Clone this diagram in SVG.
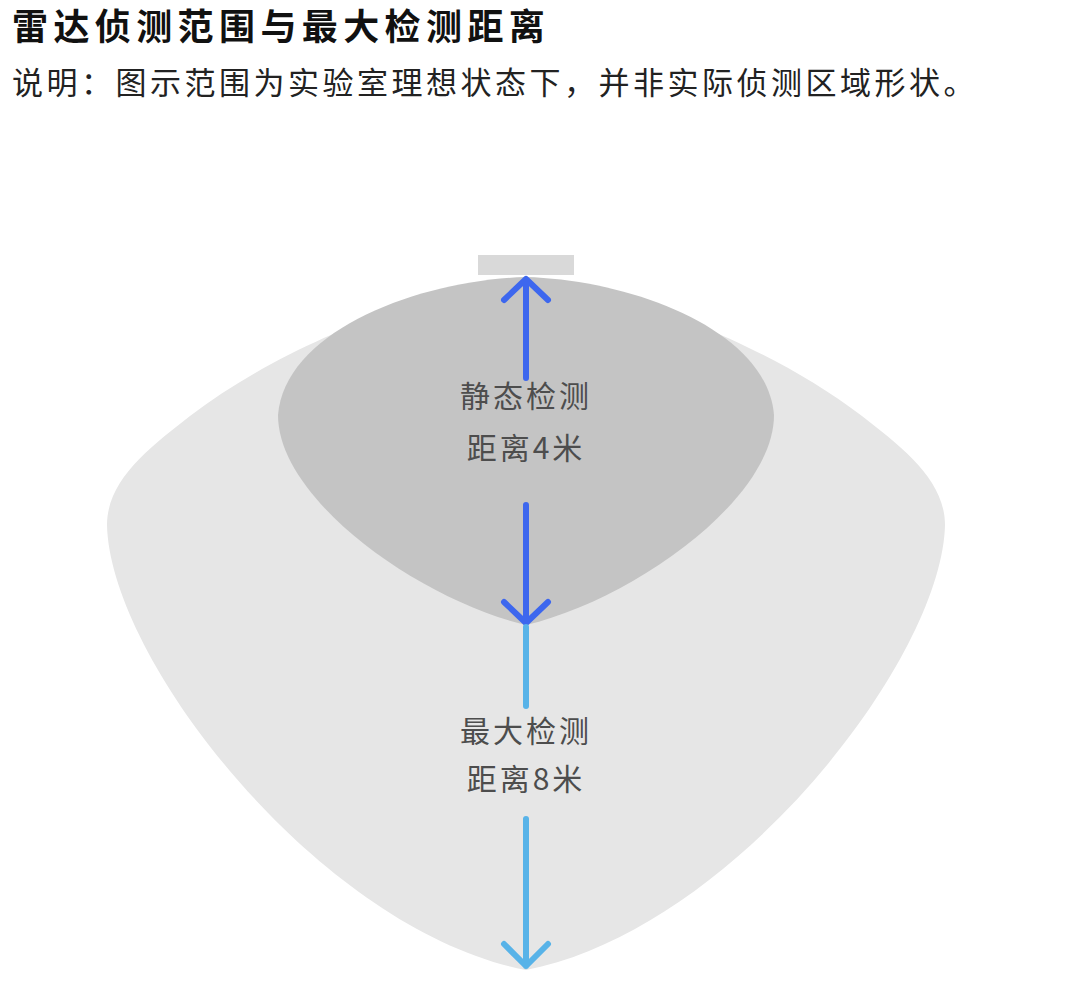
<svg xmlns="http://www.w3.org/2000/svg" width="1080" height="986" viewBox="0 0 1080 986">
<defs>
<style>
.title{font-family:"Noto Sans CJK SC","Noto Sans",sans-serif;font-weight:700;font-size:36px;fill:#111;letter-spacing:5.4px}
.sub{font-family:"Noto Sans CJK SC","Noto Sans",sans-serif;font-size:31px;fill:#222;letter-spacing:3.5px}
.lbl{font-family:"Noto Sans CJK SC","Noto Sans",sans-serif;font-size:30px;fill:#4d4d4d;text-anchor:middle;letter-spacing:3px}
.dark{stroke:#3d67ee;stroke-width:6;fill:none;stroke-linecap:round;stroke-linejoin:round}
.light{stroke:#58b3e8;stroke-width:6;fill:none;stroke-linecap:round;stroke-linejoin:round}
</style>
</defs>
<rect width="1080" height="986" fill="#fff"/>
<text class="title" x="12" y="40">雷达侦测范围与最大检测距离</text>
<text class="sub" x="12" y="94">说明：图示范围为实验室理想状态下，并非实际侦测区域形状。</text>
<g id="max-range">
<path d="M526,280 C460,282 300,332 190,416 C150,447 107,480 107,525 C110,660 320,930 526,970 C732,930 942,660 945,525 C945,480 902,447 862,416 C752,332 592,282 526,280 Z" fill="#e6e6e6"/>
</g>
<g id="static-range">
<path d="M526,277 C420,280 285,330 278,415 C278,500 420,600 526,625 C632,600 774,500 774,415 C767,330 632,280 526,277 Z" fill="#c4c4c4"/>
</g>
<g id="sensor">
<rect x="478" y="255" width="96" height="20" fill="#d9d9d9"/>
</g>
<g id="connectors">
<path class="dark" d="M526,378 V281 M504,300 L526,279 L548,300"/>
<path class="dark" d="M526,505 V621 M504,602 L526,623 L548,602"/>
<path class="light" d="M526,627 V706"/>
<path class="light" d="M526,819 V966 M504,944 L526,966 L548,944"/>
</g>
<g id="label-static">
<text class="lbl" x="526" y="407">静态检测</text>
<text class="lbl" x="526" y="459">距离4米</text>
</g>
<g id="label-max">
<text class="lbl" x="526" y="742">最大检测</text>
<text class="lbl" x="526" y="790">距离8米</text>
</g>
</svg>
